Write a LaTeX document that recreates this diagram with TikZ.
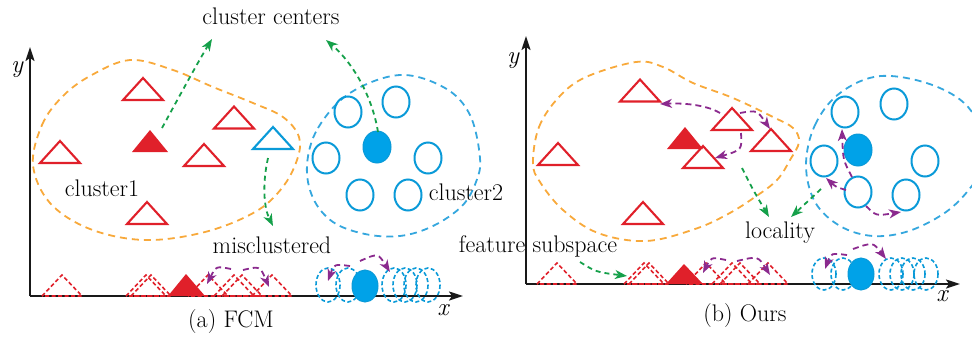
\documentclass[tikz,border=0pt]{standalone}
\usetikzlibrary{arrows.meta}
\definecolor{orangeline}{HTML}{F8A93B}
\definecolor{blueline}{HTML}{35A7DE}
\definecolor{circblue}{HTML}{0A9AD8}
\definecolor{fillblue}{HTML}{00A2E8}
\definecolor{trired}{HTML}{E0202A}
\definecolor{arrgreen}{HTML}{15A04A}
\definecolor{arrpurple}{HTML}{8B2A8E}

% open triangle centred at (#1,#2), 40 wide and 22 high
\newcommand\opentri[3][trired]{\draw[tri,#1] ({#2-20},{#3+11}) -- ({#2},{#3-11}) -- ({#2+20},{#3+11}) -- cycle;}
% filled triangle centred at (#1,#2)
\newcommand\solidtri[2]{\fill[trired] ({#1-18},{#2+11}) -- ({#1},{#2-11}) -- ({#1+18},{#2+11}) -- cycle;}
% projected triangle standing on the axis, base at height #2
\newcommand\axistri[2]{\draw[gtri] ({#1-20},{#2}) -- ({#1},{#2-21}) -- ({#1+20},{#2}) -- cycle;}

\begin{document}
\begin{tikzpicture}[x=1pt,y=-1pt,
  blobO/.style={orangeline,line width=1.8pt,dash pattern=on 7pt off 5pt},
  blobB/.style={blueline,line width=1.8pt,dash pattern=on 7pt off 5pt},
  tri/.style={line width=2.1pt,line join=miter},
  gtri/.style={trired,line width=1.6pt,dash pattern=on 4pt off 2.5pt},
  opencirc/.style={circblue,line width=2pt},
  solidcirc/.style={fill=fillblue,draw=circblue,line width=1pt},
  gcirc/.style={circblue,line width=1.6pt,dash pattern=on 4pt off 2.5pt},
  axis/.style={black!90,line width=2pt,-{Stealth[length=14pt,width=9pt,inset=3pt]}},
  garrow/.style={arrgreen,line width=1.8pt,dash pattern=on 5pt off 4pt,
    -{Stealth[length=12pt,width=9pt,inset=3.5pt]}},
  parrow/.style={arrpurple,line width=1.8pt,dash pattern=on 6pt off 4pt,
    -{Stealth[length=12pt,width=9pt,inset=3.5pt]}},
  lbl/.style={inner sep=0pt,anchor=base,text=black,font=\fontsize{24}{28}\selectfont},
  axlbl/.style={inner sep=0pt,text=black,font=\fontsize{25}{29}\selectfont\itshape},
]
\useasboundingbox (0,0) rectangle (972,338);

%% ---------------- (a) FCM ----------------
% cluster outlines
\draw[blobO] plot[smooth cycle,tension=0.6] coordinates {
  (33,165) (42,125) (62,97) (90,76) (130,60) (173,70) (213,87) (253,103)
  (283,117) (299,137) (297,160) (282,188) (255,212) (205,232) (145,240)
  (90,229) (50,203)};
\draw[blobB] plot[smooth cycle,tension=0.6] coordinates {
  (307,165) (318,128) (350,93) (400,75) (445,88) (470,115) (480,158)
  (476,182) (462,206) (433,226) (400,236) (365,234) (333,222) (313,198)};

% axes
\coordinate (oa) at (30,296);
\coordinate (ya) at (30,47);
\coordinate (xa) at (463,296);
\draw[axis] (oa) -- (ya);
\draw[axis] (oa) -- (xa);
\node[axlbl] (ylab-a) at (17,70) {y};
\node[axlbl] (xlab-a) at (443,310) {x};

% triangles of cluster1
\opentri{143}{89}
\opentri{234}{117.5}
\opentri{60}{152}
\opentri{204}{155}
\opentri{147}{213}
\opentri[circblue]{273}{138}
\solidtri{150}{141}

% circles of cluster2
\foreach \cx/\cy in {348/112,396/102,326/158,428/158,360/195,408/195}
  \draw[opencirc] (\cx,\cy) ellipse [x radius=13.5, y radius=15.5];
\draw[solidcirc] (377,147) ellipse [x radius=14, y radius=16];

% projections on the x axis
\axistri{62}{296}
\axistri{146}{296}
\axistri{151}{296}
\axistri{208}{296}
\axistri{234}{296}
\axistri{242}{296}
\axistri{272}{296}
\fill[trired] (168,296) -- (186,274) -- (205,296) -- cycle;
\foreach \cx in {328,348,394,405,416,428}
  \draw[gcirc] (\cx,285) ellipse [x radius=12, y radius=17];
\draw[solidcirc] (365,286) ellipse [x radius=13, y radius=16];

% arrows
\coordinate (ga1s) at (162,128); \coordinate (ga1e) at (212,39);
\coordinate (ga2s) at (378,132); \coordinate (ga2e) at (326,40);
\coordinate (ga3s) at (268,158); \coordinate (ga3e) at (273,226);
\draw[garrow] (ga1s) .. controls (180,95) and (198,62) .. (ga1e);
\draw[garrow] (ga2s) .. controls (372,95) and (352,62) .. (ga2e);
\draw[garrow] (ga3s) .. controls (262,185) and (264,208) .. (ga3e);

\coordinate (pa1s) at (231,269); \coordinate (pa1e) at (207,284);
\coordinate (pa2s) at (243,270); \coordinate (pa2e) at (269,287);
\coordinate (pa3s) at (350,266); \coordinate (pa3e) at (328,281);
\coordinate (pa4s) at (360,261); \coordinate (pa4e) at (390,272);
\draw[parrow] (pa1s) .. controls (216,266) .. (pa1e);
\draw[parrow] (pa2s) .. controls (260,266) .. (pa2e);
\draw[parrow] (pa3s) .. controls (334,264) .. (pa3e);
\draw[parrow] (pa4s) .. controls (378,253) .. (pa4e);

% labels
\node[lbl] (centers) at (271,24) {cluster centers};
\node[lbl] (c1lab) at (102,196) {cluster1};
\node[lbl] (c2lab) at (466,200) {cluster2};
\node[lbl] (miscl) at (272,253) {misclustered};
\node[lbl] (capa) at (231,327) {(a) FCM};

%% ---------------- (b) Ours ----------------
\draw[blobO] plot[smooth cycle,tension=0.6] coordinates {
  (533,163) (539,127) (559,97) (586,77) (636,62) (663,67) (693,83)
  (733,98) (773,117) (793,128) (799,142) (790,160) (777,180) (755,197)
  (728,214) (695,229) (646,241) (598,233) (563,210) (540,182)};
\draw[blobB] plot[smooth cycle,tension=0.6] coordinates {
  (806,165) (815,125) (840,93) (881,76) (935,86) (972,112) (986,160)
  (971,187) (946,212) (909,231) (873,236) (840,226) (815,202)};

\coordinate (ob) at (526,284);
\coordinate (yb) at (526,36);
\coordinate (xb) at (960,284);
\draw[axis] (ob) -- (yb);
\draw[axis] (ob) -- (xb);
\node[axlbl] (ylab-b) at (513,61) {y};
\node[axlbl] (xlab-b) at (942,296) {x};

\opentri{640}{90.5}
\opentri{732}{119}
\opentri{771}{140}
\opentri{558}{154}
\opentri{643}{213}
\solidtri{685}{138}
\opentri{703}{157}

\foreach \cx/\cy in {845/112,894/104,824/161,925/161,858/192,906/195}
  \draw[opencirc] (\cx,\cy) ellipse [x radius=13.5, y radius=15.5];
\draw[solidcirc] (858,150) ellipse [x radius=14, y radius=16];

\axistri{557}{284}
\axistri{644}{284}
\axistri{649}{284}
\axistri{706}{284}
\axistri{732}{284}
\axistri{740}{284}
\axistri{768}{284}
\fill[trired] (666,284) -- (684,264) -- (703,284) -- cycle;
\foreach \cx in {824,843,891,902,913,926}
  \draw[gcirc] (\cx,274) ellipse [x radius=12, y radius=16];
\draw[solidcirc] (861,274) ellipse [x radius=13, y radius=16];

% arrows
\coordinate (gb1s) at (742,168); \coordinate (gb1e) at (769,217);
\coordinate (gb2s) at (821,189); \coordinate (gb2e) at (791,217);
\coordinate (gb3s) at (580,262); \coordinate (gb3e) at (627,276);
\draw[garrow] (gb1s) .. controls (752,188) .. (gb1e);
\draw[garrow] (gb2s) -- (gb2e);
\draw[garrow] (gb3s) .. controls (596,272) .. (gb3e);

\coordinate (pb1s) at (720,113); \coordinate (pb1e) at (660,104);
\coordinate (pb2s) at (740,113); \coordinate (pb2e) at (770,129);
\coordinate (pb3s) at (741,133); \coordinate (pb3e) at (715,158);
\coordinate (pb4s) at (852,177); \coordinate (pb4e) at (842,129);
\coordinate (pb5s) at (846,190); \coordinate (pb5e) at (826,178);
\coordinate (pb6s) at (866,206); \coordinate (pb6e) at (901,212);
\draw[parrow] (pb1s) .. controls (705,104) and (680,103) .. (pb1e);
\draw[parrow] (pb2s) .. controls (757,110) .. (pb2e);
\draw[parrow] (pb3s) .. controls (742,150) .. (pb3e);
\draw[parrow] (pb4s) .. controls (843,160) .. (pb4e);
\draw[parrow] (pb5s) .. controls (836,187) .. (pb5e);
\draw[parrow] (pb6s) .. controls (876,216) .. (pb6e);

\coordinate (pb7s) at (726,260); \coordinate (pb7e) at (703,273);
\coordinate (pb8s) at (737,261); \coordinate (pb8e) at (770,275);
\coordinate (pb9s) at (847,255); \coordinate (pb9e) at (825,269);
\coordinate (pb10s) at (853,249); \coordinate (pb10e) at (886,259);
\draw[parrow] (pb7s) .. controls (711,257) .. (pb7e);
\draw[parrow] (pb8s) .. controls (758,256) .. (pb8e);
\draw[parrow] (pb9s) .. controls (831,253) .. (pb9e);
\draw[parrow] (pb10s) .. controls (873,242) .. (pb10e);

\node[lbl] (featsub) at (538,252) {feature subspace};
\node[lbl] (local) at (780,238) {locality};
\node[lbl] (capb) at (745,321) {(b) Ours};
\end{tikzpicture}
\end{document}
